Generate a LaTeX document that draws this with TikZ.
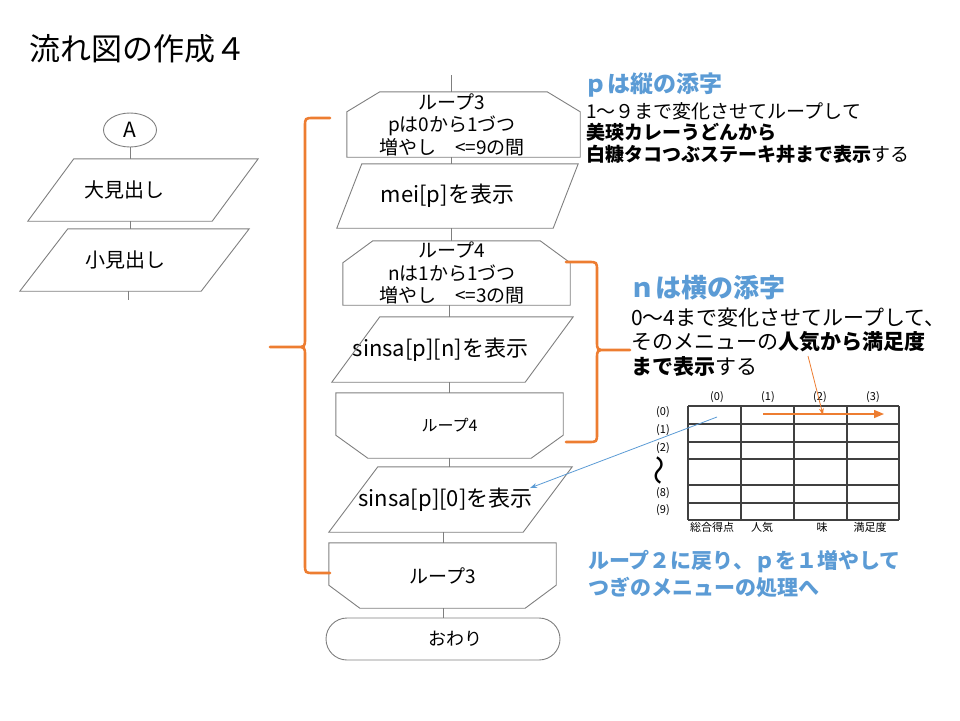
\documentclass[tikz,border=0pt]{standalone}
\usepackage{fontspec}
\setmainfont{Noto Sans CJK JP}
\usepackage{tikz}
\usetikzlibrary{calc,arrows.meta,shapes.geometric,shapes.misc,positioning}

\definecolor{flowgray}{RGB}{127,127,127}
\definecolor{accorange}{RGB}{237,125,49}
\definecolor{accblue}{RGB}{91,155,213}
\definecolor{gridgray}{RGB}{64,64,64}

\newcommand{\fsz}[2]{\fontsize{#1pt}{#2pt}\selectfont}
% outlines drawn round the named boxes
\newcommand{\ioshape}[2]{\draw[shapeline] ($(#1.north west)+(#2,0)$) -- (#1.north east) -- ($(#1.south east)-(#2,0)$) -- (#1.south west) -- cycle;}
\newcommand{\lpstart}[3]{\draw[shapeline] ($(#1.north west)+(#2,0)$) -- ($(#1.north east)-(#2,0)$) -- ($(#1.north east)+(0,#3)$) -- (#1.south east) -- (#1.south west) -- ($(#1.north west)+(0,#3)$) -- cycle;}
\newcommand{\lpend}[3]{\draw[shapeline] (#1.north west) -- (#1.north east) -- ($(#1.south east)-(0,#3)$) -- ($(#1.south east)-(#2,0)$) -- ($(#1.south west)+(#2,0)$) -- ($(#1.south west)-(0,#3)$) -- cycle;}

\tikzset{
  shapeline/.style={draw=flowgray, line width=0.9pt},
  link/.style={draw=flowgray, line width=0.9pt},
  box/.style={rectangle, inner sep=0pt, align=center},
  brace/.style={draw=accorange, line width=2.6pt, line cap=round},
  note/.style={anchor=west, inner sep=0pt},
  gridlabel/.style={inner sep=0pt, font=\fsz{11}{11}},
}

\begin{document}
\begin{tikzpicture}[x=1pt,y=-1pt,>=Stealth]
  \useasboundingbox (0,0) rectangle (960,720);
  \node[note, font=\fsz{31}{31}] (title) at (29,49) {流れ図の作成４};

  % left flow
  \coordinate (lspine) at (130,0);
  \node[ellipse, draw=flowgray, line width=0.9pt, minimum width=53, minimum height=34, inner sep=0pt, font=\fsz{21}{21}] (conA) at (130,130) {A};
  \node[box, minimum width=230, minimum height=62, font=\fsz{20}{20}] (bighead) at (143,190) {\hspace*{-38pt}大見出し};
  \node[box, minimum width=229, minimum height=62, font=\fsz{20}{20}] (smallhead) at (134.5,260) {\hspace*{-19pt}小見出し};
  \ioshape{bighead}{46}
  \ioshape{smallhead}{48}
  \coordinate (lend) at (128,300);
  \draw[link] (conA.south) -- (bighead.north -| lspine);
  \draw[link] (bighead.south -| lspine) -- (smallhead.north -| lspine);
  \draw[link] (smallhead.south -| lend) -- (lend);

  % middle flow
  \coordinate (mspine) at (449,0);
  \coordinate (mtop) at (451,75);
  \node[box, minimum width=233, minimum height=65, font=\fsz{19}{22.5}] (loopp) at (463.5,124.5) {\hspace*{-23pt}ループ3\\\hspace*{-23pt}pは0から1づつ\\\hspace*{-23pt}増やし　<=9の間};
  \node[box, minimum width=241, minimum height=64, font=\fsz{22}{22}] (showmei) at (457.5,196) {\hspace*{-20pt}mei[p]を表示};
  \node[box, minimum width=227, minimum height=64, font=\fsz{19}{22.5}] (loopn) at (456.5,273) {\hspace*{-9pt}ループ4\\\hspace*{-9pt}nは1から1づつ\\\hspace*{-9pt}増やし　<=3の間};
  \node[box, minimum width=241, minimum height=65, font=\fsz{22}{22}] (showpn) at (452.5,349.5) {\hspace*{-24pt}sinsa[p][n]を表示};
  \node[box, minimum width=227, minimum height=65, font=\fsz{16}{16}] (loopnend) at (449.5,425.5) {ループ4};
  \node[box, minimum width=243, minimum height=65, font=\fsz{22}{22}] (showpzero) at (450.5,499.5) {\hspace*{-10pt}sinsa[p][0]を表示};
  \node[box, minimum width=227, minimum height=65, font=\fsz{19}{19}] (looppend) at (442.5,575.5) {ループ3};
  \node[rounded rectangle, draw=flowgray, line width=0.9pt, minimum width=234, minimum height=42, inner sep=0pt, font=\fsz{18}{18}] (finish) at (443,639) {\hspace*{24pt}おわり};
  \lpstart{loopp}{33}{20}
  \ioshape{showmei}{25}
  \lpstart{loopn}{30}{22}
  \ioshape{showpn}{48}
  \lpend{loopnend}{32}{23}
  \ioshape{showpzero}{49}
  \lpend{looppend}{31}{23}
  \draw[link] (mtop) -- (loopp.north -| mtop);
  \draw[link] (loopp.south -| mtop) -- (showmei.north -| mtop);
  \draw[link] (showmei.south -| mtop) -- (loopn.north -| mtop);
  \draw[link] (loopn.south -| mspine) -- (showpn.north -| mspine);
  \draw[link] (showpn.south -| mspine) -- (loopnend.north -| mspine);
  \draw[link] (loopnend.south -| mspine) -- (showpzero.north -| mspine);
  \draw[link] (showpzero.south -| finish) -- (looppend.north -| finish);
  \draw[link] (looppend.south -| finish) -- (finish.north);

  % braces
  \draw[brace] (330,118) -- (314,118) .. controls (305,118) .. (305,127) -- (305,338) .. controls (305,347) .. (296,347) -- (270,347)
               (296,347) .. controls (305,347) .. (305,356) -- (305,564) .. controls (305,573) .. (314,573) -- (330,573);
  \draw[brace] (566,262) -- (588,262) .. controls (597,262) .. (597,271) -- (597,341) .. controls (597,350) .. (606,350) -- (630,350)
               (606,350) .. controls (597,350) .. (597,359) -- (597,433) .. controls (597,442) .. (588,442) -- (566,442);

  % notes
  \node[note, font=\fsz{23}{23}\bfseries, text=accblue] (ptitle) at (584,85) {ｐは縦の添字};
  \node[note, font=\fsz{19}{19}] (pline1) at (586,111) {1～９まで変化させてループして};
  \node[note, font=\fsz{19}{19}\bfseries] (pline2) at (586,132) {美瑛カレーうどんから};
  \node[note, font=\fsz{19}{19}] (pline3) at (586,154) {{\bfseries 白糠タコつぶステーキ丼まで表示}する};
  \node[note, font=\fsz{26}{26}\bfseries, text=accblue] (ntitle) at (629,288) {ｎは横の添字};
  \node[note, font=\fsz{21}{21}] (nline1) at (631,318) {0～4まで変化させてループして、};
  \node[note, font=\fsz{21}{21}] (nline2) at (631,342) {そのメニューの{\bfseries 人気から満足度}};
  \node[note, font=\fsz{21}{21}] (nline3) at (631,367) {{\bfseries まで表示}する};
  \node[note, font=\fsz{21}{21}\bfseries, text=accblue] (back1) at (588,562) {ループ２に戻り、ｐを１増やして};
  \node[note, font=\fsz{21}{21}\bfseries, text=accblue] (back2) at (588,587) {つぎのメニューの処理へ};

  % table
  \foreach \x in {688,741,794,847,899}
    \draw[gridgray, line width=1.1pt] (\x,406) -- (\x,520);
  \foreach \y in {406,424,442,459,485,503,520}
    \draw[gridgray, line width=1.1pt] (688,\y) -- (899,\y);
  \foreach \x/\t [count=\i] in {717/(0),768/(1),820/(2),873/(3)}
    \node[gridlabel] (col\i) at (\x,397) {\t};
  \foreach \y/\t [count=\i] in {412/(0),430/(1),448/(2),493/(8),510/(9)}
    \node[gridlabel] (row\i) at (663,\y) {\t};
  \node[rotate=90, inner sep=0pt, font=\fsz{30}{30}] (rowgap) at (663,470) {～};
  \foreach \x/\t [count=\i] in {712/総合得点,762/人気,822/味,870/満足度}
    \node[gridlabel] (foot\i) at (\x,527) {\t};

  % pointers
  \coordinate (popfrom) at (808,356);
  \coordinate (popto) at (823,415);
  \coordinate (rowstart) at (763,414);
  \coordinate (rowend) at (884,414);
  \coordinate (cellfrom) at (717,417);
  \coordinate (cellto) at (530,488);
  \draw[accorange, line width=0.8pt, -{Stealth[length=7pt,width=5pt]}] (popfrom) -- (popto);
  \draw[accorange, line width=1.4pt, -{Triangle[length=10pt,width=8pt]}] (rowstart) -- (rowend);
  \draw[accblue, line width=0.8pt, -{Stealth[length=7pt,width=5pt]}] (cellfrom) -- (cellto);
\end{tikzpicture}
\end{document}
